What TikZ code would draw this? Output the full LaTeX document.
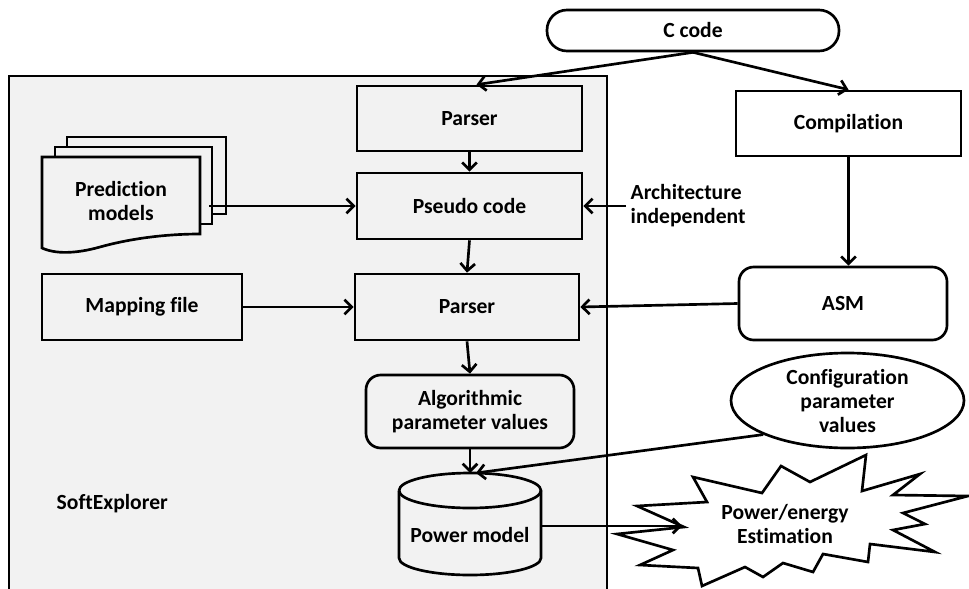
\documentclass[tikz,border=0pt]{standalone}
\usepackage{fontspec}
\setmainfont{Carlito}[Ligatures=NoCommon]
\usetikzlibrary{arrows.meta,shapes.geometric,calc}
\definecolor{panel}{HTML}{F2F2F2}
\tikzset{
  lbl/.style={font=\fontsize{16.2}{18}\selectfont\bfseries, align=center, text=black},
  box/.style={draw, line width=2pt, rectangle, inner sep=0pt, lbl},
  inbox/.style={box, fill=panel},
  outbox/.style={box, fill=white},
  link/.style={draw, line width=2pt, -{Straight Barb[length=5.5pt,width=11pt,line width=2pt]}},
}
\begin{document}
\begin{tikzpicture}[x=0.75pt,y=-0.75pt]
\useasboundingbox (0,0) rectangle (969,588);

% SoftExplorer container
\draw[line width=1.5pt, fill=panel] (9,76) rectangle (607,600);
\node[lbl, anchor=west] (tool) at (52,504) {SoftExplorer};

% stacked document sheets of the prediction models
\draw[line width=2pt, fill=panel] (67,137) rectangle (226,214);
\draw[line width=2pt, fill=panel] (55,147) rectangle (212,224);
\draw[line width=2pt, fill=panel] (42,157) -- (200,157) -- (200,234)
  .. controls (160,234) and (125,240) .. (100,247)
  .. controls (75,254) and (55,254) .. (42,248) -- cycle;
\node[lbl] (pred) at (121,201) {Prediction\\models};
\coordinate (predout) at (209,206);

% source entry
\node[draw, line width=2pt, fill=white, rounded corners=15pt, minimum width=219pt,
      minimum height=30.75pt, lbl] (ccode) at (693,30.5) {C code};

% SoftExplorer chain
\node[inbox, minimum width=168.75pt, minimum height=48.75pt] (parserA) at (469.5,118.5) {Parser};
\node[inbox, minimum width=168.75pt, minimum height=49.5pt] (pseudo) at (469.5,206) {Pseudo code};
\node[inbox, minimum width=168pt, minimum height=49.5pt] (parserB) at (467,307) {Parser};
\node[inbox, minimum width=150pt, minimum height=49.5pt] (mapping) at (142,307) {Mapping file};
\node[inbox, rounded corners=11pt, minimum width=156pt, minimum height=54.75pt] (algo) at (470,411.5) {Algorithmic\\parameter values};

% power model database
\draw[line width=2pt, fill=panel] (399,490.5) -- (399,558)
  arc[start angle=180, end angle=0, x radius=71, y radius=17]
  -- (541,490.5) arc[start angle=0, end angle=-180, x radius=71, y radius=17.5];
\draw[line width=2pt] (399,490.5) arc[start angle=180, end angle=0, x radius=71, y radius=17.5];
\node[lbl] (power) at (470,535) {Power model};
\coordinate (powtop) at (470,473);
\coordinate (powright) at (541,526);

% compilation side
\node[outbox, minimum width=168.75pt, minimum height=48.75pt] (compil) at (848.5,123.5) {Compilation};
\node[outbox, rounded corners=11pt, minimum width=156pt, minimum height=54.75pt] (asm) at (843,303.5) {ASM};
\node[lbl, anchor=west, align=left] (arch) at (626,206) {Architecture\\independent};

% configuration parameters
\node[draw, ellipse, line width=2pt, fill=white, inner sep=0pt, minimum width=174.75pt,
      minimum height=71.25pt, lbl] (config) at (847.5,400.5) {Configuration\\parameter\\values};

% estimation burst
\draw[line width=2pt, fill=white, line join=miter]
  (870,544) -- (868,562) -- (823,554) -- (813,572) -- (783,563) -- (763,577)
  -- (745,567) -- (702,586) -- (698,568) -- (640,565) -- (673,550) -- (617,534)
  -- (684,527) -- (637,506) -- (707,502) -- (693,477) -- (762,493) -- (781,466)
  -- (810,482) -- (866,455) -- (862,491) -- (920,474) -- (893,495) -- (968,496)
  -- (903,513) -- (925,524) -- (893,530) -- (935,552) -- cycle;
\node[lbl] (est) at (785,524) {Power/energy\\Estimation};
\coordinate (estin) at (682,526);

% connectors
\draw[link] (ccode.south) -- ($(parserA.north)+(7,0)$);
\draw[link] (ccode.south) -- (compil.north);
\draw[link] (parserA.south) -- (pseudo.north);
\draw[link] (pseudo.south) -- (parserB.north);
\draw[link] (predout) -- (pseudo.west);
\draw[link] (arch.west) -- (pseudo.east);
\draw[link] (mapping.east) -- (parserB.west);
\draw[link] (asm.west) -- (parserB.east);
\draw[link] (compil.south) -- (compil.south |- asm.north);
\draw[link] (parserB.south) -- (algo.north);
\draw[link] (algo.south) -- (powtop);
\draw[link] (config.202) -- ($(powtop)+(6,0)$);
\draw[link] (powright) -- (estin);
\end{tikzpicture}
\end{document}
